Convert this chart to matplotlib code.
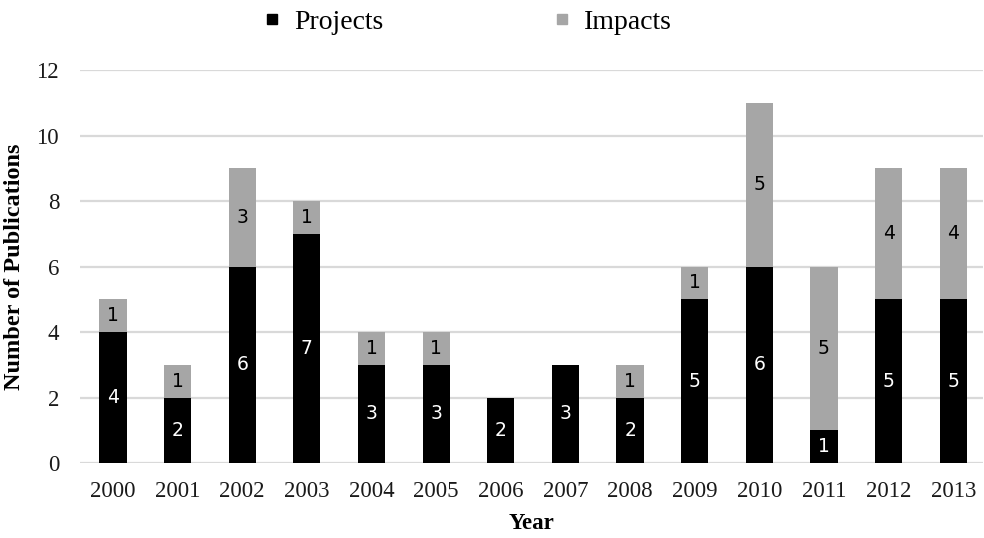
import matplotlib
matplotlib.use("Agg")
import matplotlib.pyplot as plt
from matplotlib.lines import Line2D

# Data
years = ['2000', '2001', '2002', '2003', '2004', '2005', '2006',
         '2007', '2008', '2009', '2010', '2011', '2012', '2013']
projects = [4, 2, 6, 7, 3, 3, 2, 3, 2, 5, 6, 1, 5, 5]
impacts = [1, 1, 3, 1, 1, 1, 0, 0, 1, 1, 5, 5, 4, 4]

black = '#000000'
grey = '#A6A6A6'
serif = 'Liberation Serif'

fig = plt.figure(figsize=(9.84, 5.38), dpi=100)
ax = fig.add_axes([80 / 984, 75 / 538, 903 / 984, 393 / 538])

x = range(len(years))
width = 0.42
ax.bar(x, projects, width, color=black, zorder=3)
ax.bar(x, impacts, width, bottom=projects, color=grey, zorder=3)

# Segment labels
for i in x:
    if projects[i] > 0:
        ax.text(i, projects[i] / 2, str(projects[i]), ha='center', va='center',
                color='white', fontsize=13.5, family='DejaVu Sans', zorder=4)
    if impacts[i] > 0:
        ax.text(i, projects[i] + impacts[i] / 2, str(impacts[i]), ha='center',
                va='center', color=black, fontsize=13.5, family='DejaVu Sans', zorder=4)

ax.set_xlim(-0.51, 13.46)
ax.set_ylim(0, 12)
ax.set_yticks(range(0, 13, 2))
ax.set_xticks(list(x))
ax.set_xticklabels(years)
ax.yaxis.grid(True, color='#D9D9D9', linewidth=1.6, zorder=0)
ax.set_axisbelow(True)
for s in ax.spines.values():
    s.set_visible(False)
ax.tick_params(length=0, labelsize=16.5, colors='#1a1a1a')
ax.tick_params(axis='x', pad=13)
ax.tick_params(axis='y', pad=15)
for lab in ax.get_xticklabels() + ax.get_yticklabels():
    lab.set_family(serif)

ax.set_xlabel('Year', fontsize=16.5, fontweight='bold', family=serif, labelpad=8)
ax.set_ylabel('Number of Publications', fontsize=17.5, fontweight='bold',
              family=serif, labelpad=8)

handles = [Line2D([], [], marker='s', linestyle='none', color=black, markersize=7.5),
           Line2D([], [], marker='s', linestyle='none', color=grey, markersize=7.5)]
fig.legend(handles, ['Projects', 'Impacts'], loc='center',
           bbox_to_anchor=(465 / 984, 1 - 22 / 538), ncol=2, frameon=False,
           prop={'family': serif, 'size': 20}, handletextpad=0.3,
           columnspacing=5.9, handlelength=1.0)

fig.savefig('out.png', dpi=100)
